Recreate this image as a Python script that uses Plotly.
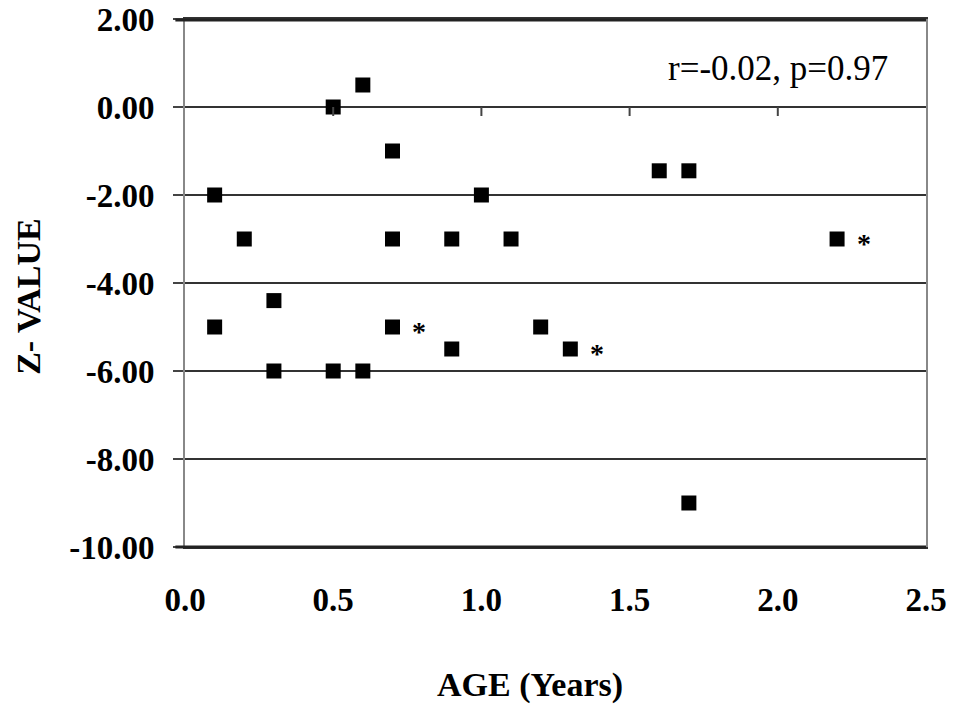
import plotly.graph_objects as go

# Data
age = [0.1, 0.1, 0.2, 0.3, 0.3, 0.5, 0.5, 0.6, 0.6, 0.7, 0.7, 0.7,
       0.9, 0.9, 1.0, 1.1, 1.2, 1.3, 1.6, 1.7, 1.7, 2.2]
zval = [-2.0, -5.0, -3.0, -4.4, -6.0, 0.0, -6.0, 0.5, -6.0, -1.0, -3.0, -5.0,
        -3.0, -5.5, -2.0, -3.0, -5.0, -5.5, -1.45, -1.45, -9.0, -3.0]
starred_age = [0.7, 1.3, 2.2]
starred_z = [-5.0, -5.5, -3.0]

x_ticks = [0.0, 0.5, 1.0, 1.5, 2.0, 2.5]
y_ticks = [2, 0, -2, -4, -6, -8, -10]
y_tick_labels = [f"{v:.2f}" for v in y_ticks]
x_tick_labels = [f"{v:.1f}" for v in x_ticks]

stat_text = "r=-0.02, p=0.97"

FONT = "Liberation Serif, Times New Roman, serif"

fig = go.Figure()
fig.add_trace(go.Scatter(
    x=age, y=zval, mode="markers",
    marker=dict(symbol="square", size=15, color="black"),
    showlegend=False, hoverinfo="x+y", cliponaxis=False,
))

annotations = []
for ax_, az_ in zip(starred_age, starred_z):
    annotations.append(dict(
        x=ax_, y=az_, xref="x", yref="y", text="<b>*</b>",
        showarrow=False, xshift=27, yshift=-4,
        font=dict(family=FONT, size=28, color="black"),
    ))

annotations.append(dict(
    x=0.951, y=0.907, xref="paper", yref="paper", text=stat_text,
    showarrow=False, xanchor="right", yanchor="middle",
    font=dict(family=FONT, size=35, color="black"),
))
annotations.append(dict(
    x=0.465, y=-0.262, xref="paper", yref="paper", text="<b>AGE (Years)</b>",
    showarrow=False, xanchor="center", yanchor="middle",
    font=dict(family=FONT, size=34, color="black"),
))
annotations.append(dict(
    x=-0.211, y=0.475, xref="paper", yref="paper", text="<b>Z- VALUE</b>",
    showarrow=False, xanchor="center", yanchor="middle", textangle=-90,
    font=dict(family=FONT, size=34, color="black"),
))

shapes = []
for xv in x_ticks[1:-1]:
    shapes.append(dict(
        type="line", xref="x", yref="y", ysizemode="pixel", yanchor=0,
        x0=xv, x1=xv, y0=0, y1=-9,
        line=dict(color="#444", width=2),
    ))
# top and bottom frame edges, with the little outside ticks at the left
for yv in (0, 0.998):
    shapes.append(dict(
        type="line", xref="paper", yref="paper", x0=-0.013, x1=1,
        y0=yv, y1=yv, layer="above", line=dict(color="#222", width=3),
    ))

# The page body adds an 8px margin, so the figure is sized to fit the window.
fig.update_layout(
    width=958, height=697,
    margin=dict(l=177, r=40, t=11, b=158),
    plot_bgcolor="white", paper_bgcolor="white",
    font=dict(family=FONT, color="black"),
    annotations=annotations,
    shapes=shapes,
    xaxis=dict(
        range=[0, 2.5], tickvals=x_ticks, ticktext=x_tick_labels,
        showgrid=False, zeroline=False, automargin=False,
        showline=True, mirror=True, linecolor="#333", linewidth=2,
        ticks="", ticklabelstandoff=22, ticklabeloverflow="allow",
        tickfont=dict(family=FONT, size=33, color="black", weight="bold"),
    ),
    yaxis=dict(
        range=[-10, 2], tickvals=y_ticks, ticktext=y_tick_labels,
        showgrid=True, gridcolor="#333", gridwidth=2, automargin=False,
        zeroline=True, zerolinecolor="#333", zerolinewidth=2,
        showline=True, mirror=True, linecolor="#888", linewidth=2,
        ticks="outside", ticklen=10, tickwidth=2, tickcolor="#444",
        ticklabelstandoff=12, ticklabeloverflow="allow",
        tickfont=dict(family=FONT, size=33, color="black", weight="bold"),
    ),
)

fig.write_html("out.html")
